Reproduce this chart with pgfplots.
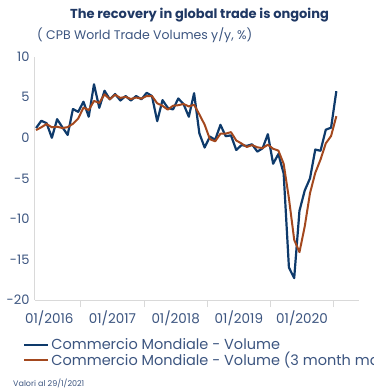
\documentclass[border=0pt]{standalone}
\usepackage{fontspec}
\setmainfont{Poppins}
\usepackage{pgfplots}
\pgfplotsset{compat=1.18}
\definecolor{navy}{HTML}{0E3A6B}
\definecolor{rust}{HTML}{A3481E}
\definecolor{lbl}{HTML}{3C5580}
\definecolor{ttl}{HTML}{1F3864}
\definecolor{axgray}{HTML}{D9D9D9}
\begin{document}
\begin{tikzpicture}
\useasboundingbox (0pt,0pt) rectangle (374pt,-392pt);
\clip (0pt,0pt) rectangle (374pt,-392pt);
\node[font=\bfseries\fontsize{13}{15}\selectfont, text=ttl] at (199.5pt,-15pt) {The recovery in global trade is ongoing};
\node[font=\fontsize{12.5}{14}\selectfont, text=lbl, anchor=west, inner sep=0pt] at (37pt,-35pt) {( CPB World Trade Volumes y/y, \%)};
\node[font=\fontsize{8}{9}\selectfont, text=lbl, anchor=west, inner sep=0pt] at (13pt,-383pt) {Valori al 29/1/2021};
\begin{axis}[
  at={(35pt,-300pt)}, anchor=south west,
  scale only axis, width=324pt, height=243.3pt,
  xmin=-0.2, xmax=61.3, ymin=-20, ymax=10,
  axis lines*=left,
  axis line style={axgray, line width=1pt},
  tick align=outside,
  ytick={-20,-15,...,10},
  yticklabels={-20,-15,-10,-5,0,5,10},
  ytick style={draw=none},
  yticklabel style={xshift=5pt},
  xtick={8.5,20.5,32.5,44.5,56.5},
  xticklabels={},
  xtick style={axgray, line width=1pt},
  major tick length=7pt,
  extra x ticks={2.5,14.5,26.5,38.5,50.5},
  extra x tick labels={01/2016,01/2017,01/2018,01/2019,01/2020},
  extra x tick style={major tick length=0pt, xticklabel style={yshift=-7pt, font=\fontsize{13.5}{15}\selectfont}},
  tick label style={font=\fontsize{13}{15}\selectfont, text=lbl},
  legend style={draw=none, fill=none, at={(axis description cs:-0.037,-0.15)}, anchor=north west,
    font=\fontsize{14.5}{16}\selectfont, nodes={text=lbl}, cells={anchor=west}, row sep=-3pt, inner sep=0pt},
  legend image code/.code={\draw[#1] (0pt,0pt) -- (24pt,0pt);},
  clip=false,
]
\addplot[navy, line width=2.2pt, line join=round] coordinates {
(0,1.2)(1,2.1)(2,1.8)(3,0.0)(4,2.3)(5,1.3)(6,0.35)(7,3.55)(8,3.2)(9,4.45)
(10,2.6)(11,6.6)(12,3.7)(13,5.8)(14,4.75)(15,5.4)(16,4.6)(17,5.15)(18,4.6)(19,5.15)
(20,4.75)(21,5.55)(22,5.15)(23,2.05)(24,4.65)(25,3.7)(26,3.5)(27,4.85)(28,4.15)(29,2.6)
(30,5.5)(31,0.55)(32,-1.2)(33,0.15)(34,-0.25)(35,1.6)(36,0.2)(37,0.3)(38,-1.5)(39,-0.9)
(40,-1.0)(41,-0.8)(42,-1.7)(43,-1.3)(44,0.45)(45,-3.2)(46,-2.0)(47,-4.4)(48,-16.0)(49,-17.3)
(50,-9.0)(51,-6.5)(52,-5.0)(53,-1.45)(54,-1.6)(55,1.0)(56,1.25)(57,5.75)
};
\addlegendentry{Commercio Mondiale - Volume}
\addplot[rust, line width=2pt, line join=round] coordinates {
(0,0.95)(1,1.3)(2,1.7)(3,1.3)(4,1.37)(5,1.2)(6,1.32)(7,1.73)(8,2.37)(9,3.73)
(10,3.42)(11,4.55)(12,4.3)(13,5.37)(14,4.75)(15,5.32)(16,4.92)(17,5.05)(18,4.78)(19,4.97)
(20,4.83)(21,5.15)(22,5.15)(23,4.25)(24,3.95)(25,3.47)(26,3.95)(27,4.02)(28,4.17)(29,3.87)
(30,4.08)(31,2.88)(32,1.62)(33,-0.17)(34,-0.43)(35,0.5)(36,0.52)(37,0.7)(38,-0.33)(39,-0.7)
(40,-1.13)(41,-0.9)(42,-1.17)(43,-1.27)(44,-0.85)(45,-1.35)(46,-1.58)(47,-3.2)(48,-7.47)(49,-12.57)
(50,-14.1)(51,-10.93)(52,-6.83)(53,-4.32)(54,-2.68)(55,-0.68)(56,0.22)(57,2.67)
};
\addlegendentry{Commercio Mondiale - Volume (3 month mavg)}
\end{axis}
\end{tikzpicture}
\end{document}
